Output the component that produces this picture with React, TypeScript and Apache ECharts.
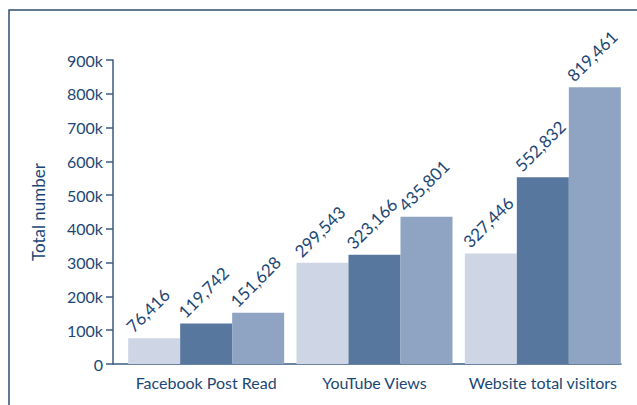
import React, { useEffect, useRef } from "react";
import * as echarts from "echarts";

const categories = ["Facebook Post Read", "YouTube Views", "Website total visitors"];
const seriesNames = ["Series A", "Series B", "Series C"];
const seriesA = [76416, 299543, 327446];
const seriesB = [119742, 323166, 552832];
const seriesC = [151628, 435801, 819461];
const yTicks = [0, 100000, 200000, 300000, 400000, 500000, 600000, 700000, 800000, 900000];

const TEXT = "#1c4775";
const AXIS = "#3b5b82";
const COLORS = ["#ced5e4", "#57779f", "#8fa4c2"];
const FONT = "Lato, 'Open Sans', sans-serif";

export default function App() {
  const ref = useRef<HTMLDivElement>(null);
  useEffect(() => {
    if (!ref.current) return;
    const chart = echarts.init(ref.current, null, { renderer: "svg" });
    const yMin = yTicks[0];
    const yMax = yTicks[yTicks.length - 1];
    const interval = yTicks[1] - yTicks[0];
    const fmt = (v: number) => (v === 0 ? "0" : v / 1000 + "k");
    const mkSeries = (name: string, data: number[], i: number) => ({
      type: "bar",
      name,
      data,
      xAxisIndex: 0,
      yAxisIndex: 0,
      barWidth: 52,
      barGap: "0%",
      itemStyle: { color: COLORS[i] },
      label: {
        show: true,
        position: [7, -3],
        rotate: 45,
        align: "left",
        verticalAlign: "bottom",
        color: TEXT,
        fontFamily: FONT,
        fontSize: 17,
        formatter: (p: any) => Number(p.value).toLocaleString("en-US"),
      },
    });
    chart.setOption({
      animation: false,
      textStyle: { fontFamily: FONT },
      graphic: [
        {
          type: "polyline",
          shape: { points: [[9, 405], [9, 10], [637, 10]] },
          style: { stroke: "#2e4d6e", lineWidth: 1.5, fill: "none" },
          silent: true,
        },
      ],
      grid: [
        { left: 122, right: 10, top: 60, bottom: 41 },
        { left: 113, right: 16, top: 60, bottom: 41 },
      ],
      xAxis: [
        {
          type: "category",
          gridIndex: 0,
          data: categories,
          axisLine: { show: false },
          axisTick: { show: false },
          axisLabel: { color: TEXT, fontSize: 16, fontFamily: FONT, margin: 10, interval: 0 },
        },
        {
          type: "category",
          gridIndex: 1,
          data: categories,
          axisLine: { show: true, lineStyle: { color: AXIS, width: 1.5 } },
          axisTick: { show: false },
          axisLabel: { show: false },
        },
      ],
      yAxis: [
        {
          type: "value",
          gridIndex: 0,
          min: yMin,
          max: yMax,
          interval,
          show: false,
          splitLine: { show: false },
        },
        {
          type: "value",
          gridIndex: 1,
          min: yMin,
          max: yMax,
          interval,
          name: "Total number",
          nameLocation: "middle",
          nameGap: 66,
          nameTextStyle: { color: TEXT, fontSize: 17, fontFamily: FONT },
          axisLine: { show: true, lineStyle: { color: AXIS, width: 1.5 } },
          axisTick: { show: true, length: 7, lineStyle: { color: AXIS, width: 1.5 } },
          axisLabel: { color: TEXT, fontSize: 16, fontFamily: FONT, margin: 10, formatter: fmt },
          splitLine: { show: false },
        },
      ],
      series: [
        mkSeries(seriesNames[0], seriesA, 0),
        mkSeries(seriesNames[1], seriesB, 1),
        mkSeries(seriesNames[2], seriesC, 2),
      ],
    });
    return () => chart.dispose();
  }, []);
  return (
    <div
      ref={ref}
      style={{ position: "fixed", left: 0, top: 0, width: 637, height: 405, background: "#fff" }}
    />
  );
}
